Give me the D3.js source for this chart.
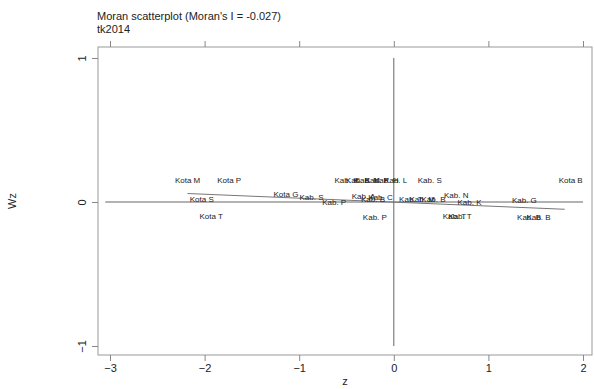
<!DOCTYPE html>
<html>
<head>
<meta charset="utf-8">
<script src="https://cdn.jsdelivr.net/npm/d3@7"></script>
<style>
  body { margin: 0; background: #fff; }
  text { font-family: "Liberation Sans", Arial, sans-serif; fill: #222; }
</style>
</head>
<body>
<svg id="chart" width="594" height="389"></svg>
<script>
// data
var names = ["Kota M", "Kota P", "Kota S", "Kota T", "Kota G", "Kab. S", "Kab. P",
             "Kab. K", "Kab. B", "Kab. M", "Kab. P", "Kab. H", "Kab. L", "Kab. S",
             "Kab. A", "Kab. B", "Kab. C", "Kab. P",
             "Kab. T", "Kab. M", "Kab. B", "Kab. N", "Kab. K", "Kab. T", "Kab. T",
             "Kab. G", "Kab. B", "Kab. B", "Kota B"];
var zVals = [-2.18, -1.74, -2.03, -1.93, -1.14, -0.87, -0.63,
             -0.5, -0.38, -0.28, -0.18, -0.08, 0.02, 0.38,
             -0.32, -0.22, -0.14, -0.2,
             0.18, 0.3, 0.42, 0.66, 0.8, 0.64, 0.7,
             1.38, 1.43, 1.53, 1.87];
var wzVals = [0.153, 0.153, 0.02, -0.097, 0.055, 0.03, 0.0,
              0.153, 0.153, 0.153, 0.153, 0.153, 0.153, 0.153,
              0.04, 0.02, 0.03, -0.104,
              0.02, 0.02, 0.02, 0.05, 0.0, -0.1, -0.1,
              0.014, -0.104, -0.104, 0.153];
var moranI = -0.027;
var xTicks = [-3, -2, -1, 0, 1, 2];
var yTicks = [-1, 0, 1];

var svg = d3.select("#chart");
var x = d3.scaleLinear().domain([-3, 2]).range([110, 583]);
var y = d3.scaleLinear().domain([-1, 1]).range([346, 58]);
var pLeft = 98, pRight = 592, pTop = 47, pBottom = 355;

// titles
svg.append("text").attr("x", 97).attr("y", 20).style("font-size", "11px")
    .text("Moran scatterplot (Moran's I = " + moranI + ")");
svg.append("text").attr("x", 97).attr("y", 33).style("font-size", "11px")
    .text("tk2014");

// frame
svg.append("rect").attr("x", pLeft).attr("y", pTop)
    .attr("width", pRight - pLeft).attr("height", pBottom - pTop)
    .attr("fill", "none").attr("stroke", "#999").attr("stroke-width", 1);

// axes
var bottomAxis = d3.axisBottom(x).tickValues(xTicks).tickSize(6).tickFormat(d3.format("d"));
var topAxis = d3.axisTop(x).tickValues(xTicks).tickSize(6).tickFormat("");
var leftAxis = d3.axisLeft(y).tickValues(yTicks).tickSize(6).tickFormat(d3.format("d"));

function style(g) {
    g.select(".domain").remove();
    g.selectAll(".tick line").attr("stroke", "#888");
    g.selectAll(".tick text").style("font-size", "11px").attr("fill", "#222")
        .style("font-family", "Liberation Sans, Arial, sans-serif");
}
svg.append("g").attr("transform", "translate(0," + pBottom + ")").call(bottomAxis).call(style);
svg.append("g").attr("transform", "translate(0," + pTop + ")").call(topAxis).call(style);
var yAx = svg.append("g").attr("transform", "translate(" + pLeft + ",0)").call(leftAxis).call(style);
yAx.selectAll(".tick text")
    .attr("x", null).attr("dy", null)
    .attr("transform", "translate(-16,0) rotate(-90)")
    .attr("y", 0).attr("dy", "0.35em")
    .style("text-anchor", "middle");

// axis titles
svg.append("text").attr("x", (pLeft + pRight) / 2).attr("y", 385)
    .style("font-size", "11px").style("text-anchor", "middle").text("z");
svg.append("text").attr("transform", "translate(16," + (pTop + pBottom) / 2 + ") rotate(-90)")
    .style("font-size", "11px").style("text-anchor", "middle").text("Wz");

// reference lines
svg.append("line").attr("x1", x(0)).attr("x2", x(0)).attr("y1", y(1)).attr("y2", y(-1))
    .attr("stroke", "#666").attr("stroke-width", 1);
svg.append("line").attr("x1", x(-3.05)).attr("x2", x(2)).attr("y1", y(0)).attr("y2", y(0))
    .attr("stroke", "#666").attr("stroke-width", 1);

// fitted line through origin, slope = Moran's I
var zMin = d3.min(zVals), zMax = d3.max(zVals);
svg.append("line").attr("x1", x(zMin)).attr("x2", x(zMax) - 6)
    .attr("y1", y(moranI * zMin)).attr("y2", y(moranI * zMax))
    .attr("stroke", "#777").attr("stroke-width", 1);

// labels
svg.append("g").selectAll("text").data(d3.range(names.length)).join("text")
    .attr("x", function(i) { return x(zVals[i]); })
    .attr("y", function(i) { return y(wzVals[i]); })
    .attr("dy", "0.35em").style("text-anchor", "middle")
    .style("font-size", "8px").attr("fill", "#333")
    .text(function(i) { return names[i]; });
</script>
</body>
</html>
